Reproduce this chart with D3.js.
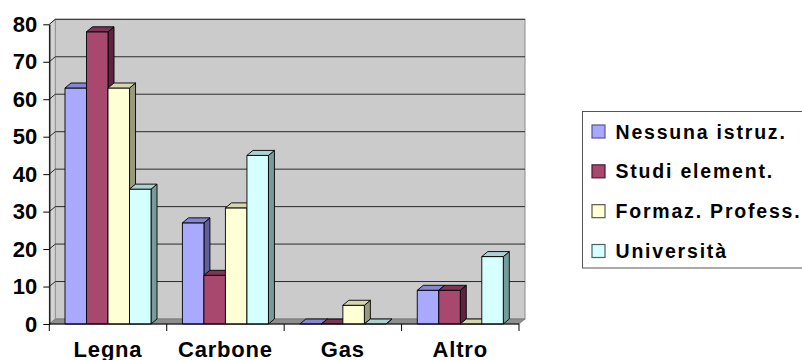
<!DOCTYPE html>
<html>
<head>
<meta charset="utf-8">
<script src="https://cdn.jsdelivr.net/npm/d3@7"></script>
<style>
  html, body { margin: 0; padding: 0; background: #fff; overflow: hidden; }
  svg { display: block; font-family: "Liberation Sans", Arial, sans-serif; font-weight: bold; }
</style>
</head>
<body>
<svg id="chart" width="802" height="360"></svg>
<script>
// Heating fuel by education level (percent)
const categories = ["Legna", "Carbone", "Gas", "Altro"];
const seriesNames = ["Nessuna istruz.", "Studi element.", "Formaz. Profess.", "Università"];
const nessunaIstruz = [63, 27, 0, 9];
const studiElement = [78, 13, 0, 9];
const formazProfess = [63, 31, 5, 0];
const universita = [36, 45, 0, 18];
const yTicks = [0, 10, 20, 30, 40, 50, 60, 70, 80];

const seriesValues = [nessunaIstruz, studiElement, formazProfess, universita];

// front face, top face and side face colours per series
const palette = [
  { front: "#a9a9ff", top: "#8585d6", side: "#5f5f99", edge: "#55559a" },
  { front: "#a8486f", top: "#7e3454", side: "#5e2342", edge: "#4a1a33" },
  { front: "#ffffd6", top: "#d6d6ae", side: "#99997e", edge: "#5a5a48" },
  { front: "#d6ffff", top: "#a9d2d2", side: "#789a9a", edge: "#4a6262" }
];

const svg = d3.select("#chart");

// oblique depth of the 3-D box
const dx = 6, dy = 5;
const x0 = 49.3, x1 = 519;

const x = d3.scaleBand().domain(categories).range([x0, x1]).padding(0);
const xs = d3.scaleBand().domain(d3.range(seriesNames.length))
  .range([0, x.bandwidth()]).paddingInner(0).paddingOuter(0.73);
const y = d3.scaleLinear().domain([0, 80]).range([324, 24.3]);

const gWalls = svg.append("g");

// back wall
gWalls.append("rect")
  .attr("x", x0 + dx).attr("y", y(80) - dy)
  .attr("width", x1 - x0).attr("height", y(0) - y(80))
  .attr("fill", "#cbcbcb").attr("stroke", "#8a8a8a").attr("stroke-width", 1);

// side wall
gWalls.append("path")
  .attr("d", `M${x0},${y(0)} L${x0},${y(80)} L${x0 + dx},${y(80) - dy} L${x0 + dx},${y(0) - dy} Z`)
  .attr("fill", "#d3d3d3").attr("stroke", "#8a8a8a").attr("stroke-width", 0.8);

// floor
gWalls.append("path")
  .attr("d", `M${x0},${y(0)} L${x1},${y(0)} L${x1 + dx},${y(0) - dy} L${x0 + dx},${y(0) - dy} Z`)
  .attr("fill", "#8e8e8e").attr("stroke", "#777").attr("stroke-width", 0.8);

// gridlines on side and back walls
const grid = svg.append("g").attr("stroke", "#2a2a2a").attr("stroke-width", 1).attr("fill", "none");
yTicks.filter(v => v > 0).forEach(v => {
  grid.append("path")
    .attr("d", `M${x0},${y(v)} L${x0 + dx},${y(v) - dy} L${x1 + dx},${y(v) - dy}`);
});

// y axis
const yAxis = svg.append("g").attr("transform", `translate(${x0},0)`)
  .call(d3.axisLeft(y).tickValues(yTicks).tickSize(6).tickPadding(6).tickSizeOuter(0));
yAxis.select(".domain").attr("stroke", "#000").attr("stroke-width", 1.2);
yAxis.selectAll(".tick line").attr("stroke", "#000").attr("stroke-width", 1);
yAxis.selectAll(".tick text")
  .attr("font-size", 22).attr("font-weight", "bold").attr("fill", "#000")
  .attr("font-family", "Liberation Sans, Arial, sans-serif");

// bars
const gBars = svg.append("g");
categories.forEach((cat, ci) => {
  seriesValues.forEach((vals, si) => {
    const v = vals[ci];
    const bx = x(cat) + xs(si);
    const w = xs.bandwidth();
    const top = y(v), base = y(0);
    const c = palette[si];
    const g = gBars.append("g").attr("stroke", "#000").attr("stroke-width", 0.9).attr("stroke-linejoin", "round");
    // side face
    g.append("path")
      .attr("d", `M${bx + w},${top} L${bx + w + dx},${top - dy} L${bx + w + dx},${base - dy} L${bx + w},${base} Z`)
      .attr("fill", c.side);
    // front face
    g.append("rect")
      .attr("x", bx).attr("y", top).attr("width", w).attr("height", base - top)
      .attr("fill", c.front);
    // top face
    g.append("path")
      .attr("d", `M${bx},${top} L${bx + dx},${top - dy} L${bx + w + dx},${top - dy} L${bx + w},${top} Z`)
      .attr("fill", c.top);
  });
});

// x axis along the front edge of the floor
const xAxis = svg.append("g").attr("transform", `translate(0,${y(0)})`);
xAxis.append("line").attr("x1", x0).attr("x2", x1).attr("stroke", "#000").attr("stroke-width", 1.2);
const boundaries = categories.map(c => x(c)).concat([x1]);
xAxis.selectAll("line.tick").data(boundaries).join("line")
  .attr("class", "tick")
  .attr("x1", d => d).attr("x2", d => d).attr("y1", 0).attr("y2", 7)
  .attr("stroke", "#000").attr("stroke-width", 1);
xAxis.selectAll("text").data(categories).join("text")
  .attr("x", d => x(d) + x.bandwidth() / 2)
  .attr("y", 33)
  .attr("text-anchor", "middle")
  .attr("font-size", 22)
  .attr("letter-spacing", 0.8)
  .text(d => d);

// legend
const legend = svg.append("g");
legend.append("rect")
  .attr("x", 582.5).attr("y", 111.5).attr("width", 240).attr("height", 156.5)
  .attr("fill", "#fff").attr("stroke", "#555").attr("stroke-width", 1);
const rowY = d3.scalePoint().domain(seriesNames).range([131.5, 251]);
seriesNames.forEach((name, i) => {
  legend.append("rect")
    .attr("x", 592).attr("y", rowY(name) - 6.5).attr("width", 13).attr("height", 13)
    .attr("fill", palette[i].front).attr("stroke", palette[i].edge).attr("stroke-width", 1.2);
  legend.append("text")
    .attr("x", 615.5).attr("y", rowY(name) + 7)
    .attr("font-size", 19.5)
    .attr("letter-spacing", 1.8)
    .text(name);
});
</script>
</body>
</html>
